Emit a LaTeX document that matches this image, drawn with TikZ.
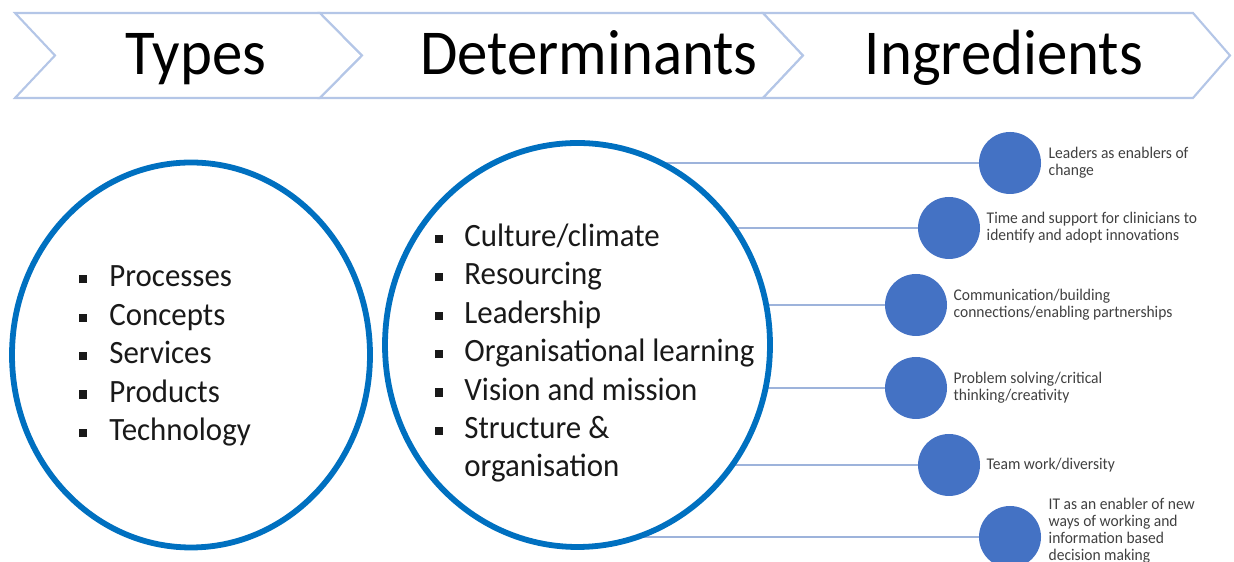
\documentclass[tikz,border=0pt]{standalone}
\usepackage{fontspec}
\setmainfont{Carlito}[FakeStretch=0.95]
\usetikzlibrary{positioning,shapes.geometric}
\definecolor{ringblue}{HTML}{0070C0}
\definecolor{dotblue}{HTML}{4472C4}
\definecolor{linkgrey}{HTML}{9DB3DB}
\definecolor{bandline}{HTML}{B4C6E7}
\definecolor{inkgrey}{HTML}{404040}
\newcommand{\sqbul}{\raisebox{2pt}{\rule{4.6pt}{4.6pt}}}

\begin{document}
\begin{tikzpicture}[
        band/.style={draw=bandline,line width=1.2pt,fill=white},
        head/.style={anchor=base,inner sep=0pt,font=\fontsize{36.4}{40}\selectfont},
        ring/.style={ellipse,draw=ringblue,line width=3.3pt,fill=white,inner sep=0pt},
        lst/.style={anchor=west,inner sep=0pt,text=black!90,
                    font=\fontsize{18.5}{21.85}\selectfont},
        dot/.style={circle,fill=dotblue,minimum size=1.24cm,inner sep=0pt},
        note/.style={anchor=west,inner sep=0pt,align=left,text=inkgrey,
                     font=\fontsize{9.3}{9.6}\selectfont},
        link/.style={draw=linkgrey,line width=1pt}]
      \useasboundingbox (0,0) rectangle (24.68,11.24);
      % banner
      \path[band] (0.30,10.98) -- (6.40,10.98) -- (7.24,10.13) -- (6.40,9.28)
        -- (0.30,9.28) -- (1.10,10.13) -- cycle;
      \path[band] (6.40,10.98) -- (15.26,10.98) -- (16.06,10.13) -- (15.26,9.28)
        -- (6.40,9.28) -- (7.24,10.13) -- cycle;
      \path[band] (15.26,10.98) -- (23.86,10.98) -- (24.60,10.13) -- (23.86,9.28)
        -- (15.26,9.28) -- (16.06,10.13) -- cycle;
      \node[head] (types) at (3.92,9.74) {Types};
      \node[head] (dets) at (11.78,9.74) {Determinants};
      \node[head] (ingr) at (20.08,9.74) {Ingredients};
      % types
      \node[ring,minimum width=7.16cm,minimum height=7.70cm] (typ) at (3.82,4.14) {};
      \node[lst] (typlist) at (1.57,4.12) {\begin{tabular}{@{}c@{\hspace{0.45cm}}l@{}}
        \sqbul & Processes\\ \sqbul & Concepts\\ \sqbul & Services\\
        \sqbul & Products\\ \sqbul & Technology\end{tabular}};
      % ingredients
      \coordinate (detc) at (11.55,4.34);
      \node[dot] (d1) at (20.20,7.98) {};
      \node[dot] (d2) at (18.98,6.68) {};
      \node[dot] (d3) at (18.32,5.14) {};
      \node[dot] (d4) at (18.32,3.48) {};
      \node[dot] (d5) at (18.98,1.94) {};
      \node[dot] (d6) at (20.20,0.50) {};
      \node[note,right=0.14cm of d1] (n1) {Leaders as enablers of\\change};
      \node[note,right=0.12cm of d2] (n2) {Time and support for clinicians to\\identify and adopt innovations};
      \node[note,right=0.12cm of d3] (n3) {Communication/building\\connections/enabling partnerships};
      \node[note,right=0.12cm of d4] (n4) {Problem solving/critical\\thinking/creativity};
      \node[note,right=0.12cm of d5] (n5) {Team work/diversity};
      \node[note,right=0.14cm of d6,yshift=0.12cm] (n6) {IT as an enabler of new\\ways of working and\\information based\\decision making};
      \draw[link] (detc |- d1) -- (d1); \draw[link] (detc |- d2) -- (d2);
      \draw[link] (detc |- d3) -- (d3); \draw[link] (detc |- d4) -- (d4);
      \draw[link] (detc |- d5) -- (d5); \draw[link] (detc |- d6) -- (d6);
      % determinants
      \node[ring,minimum width=7.70cm,minimum height=8.08cm] (det) at (detc) {};
      \node[lst] (detlist) at (8.70,4.16) {\begin{tabular}{@{}c@{\hspace{0.42cm}}l@{}}
        \sqbul & Culture/climate\\ \sqbul & Resourcing\\ \sqbul & Leadership\\
        \sqbul & Organisational learning\\ \sqbul & Vision and mission\\
        \sqbul & Structure \&\\ & organisation\end{tabular}};
    \end{tikzpicture}
\end{document}
